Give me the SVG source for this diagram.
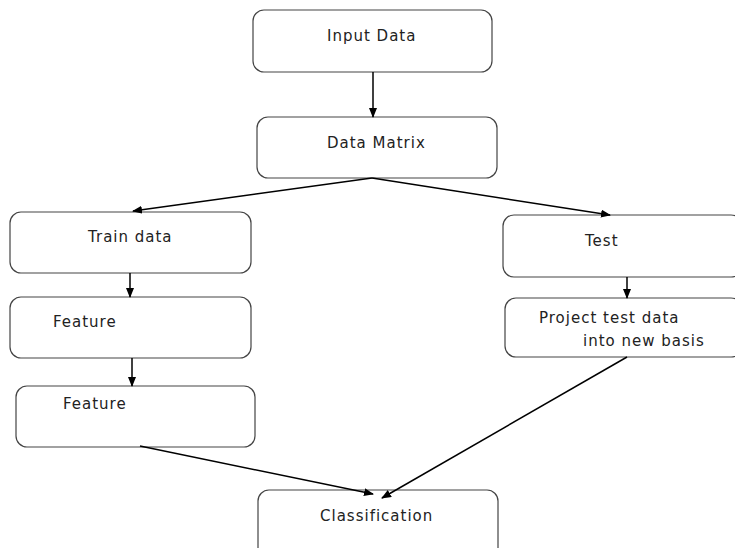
<svg xmlns="http://www.w3.org/2000/svg" width="735" height="548" viewBox="0 0 735 548">
<defs>
<marker id="ah" markerWidth="10" markerHeight="8" refX="9" refY="4" orient="auto" markerUnits="userSpaceOnUse">
<path d="M0,0 L10,4 L0,8 Z" fill="#000"/>
</marker>
<style>
.box{fill:#fff;stroke:#444;stroke-width:1.2}
.lbl{font-family:"DejaVu Sans",Verdana,sans-serif;font-size:15px;letter-spacing:1px;fill:#222}
.edge{stroke:#000;stroke-width:1.5;fill:none}
</style>
</defs>
<rect width="735" height="548" fill="#fff"/>
<g id="input-data">
<rect class="box" x="253" y="10" width="239" height="62" rx="11"/>
<text class="lbl" x="327" y="40.5">Input Data</text>
</g>
<g id="data-matrix">
<rect class="box" x="257" y="117" width="240" height="61" rx="11"/>
<text class="lbl" x="327" y="148">Data Matrix</text>
</g>
<g id="train-data">
<rect class="box" x="10" y="212" width="241" height="61" rx="11"/>
<text class="lbl" x="88" y="242">Train data</text>
</g>
<g id="feature-1">
<rect class="box" x="10" y="297" width="241" height="61" rx="11"/>
<text class="lbl" x="53" y="327">Feature</text>
</g>
<g id="feature-2">
<rect class="box" x="16" y="386" width="239" height="61" rx="11"/>
<text class="lbl" x="63" y="409">Feature</text>
</g>
<g id="test">
<rect class="box" x="503" y="215" width="239" height="62" rx="11"/>
<text class="lbl" x="585" y="246">Test</text>
</g>
<g id="project">
<rect class="box" x="505" y="298" width="237" height="59" rx="11"/>
<text class="lbl" x="539" y="323">Project test data</text>
<text class="lbl" x="583" y="346">into new basis</text>
</g>
<g id="classification">
<rect class="box" x="258" y="490" width="240" height="70" rx="11"/>
<text class="lbl" x="320" y="521">Classification</text>
</g>
<g id="connectors">
<line class="edge" x1="373" y1="72" x2="373" y2="117" marker-end="url(#ah)"/>
<line class="edge" x1="372" y1="178" x2="133" y2="211" marker-end="url(#ah)"/>
<line class="edge" x1="372" y1="178" x2="610" y2="215" marker-end="url(#ah)"/>
<line class="edge" x1="130" y1="273" x2="130" y2="297" marker-end="url(#ah)"/>
<line class="edge" x1="132" y1="358" x2="132" y2="386" marker-end="url(#ah)"/>
<line class="edge" x1="627" y1="277" x2="627" y2="298" marker-end="url(#ah)"/>
<line class="edge" x1="140" y1="446" x2="373" y2="494" marker-end="url(#ah)"/>
<line class="edge" x1="627" y1="357" x2="382" y2="498" marker-end="url(#ah)"/>
</g>
</svg>
